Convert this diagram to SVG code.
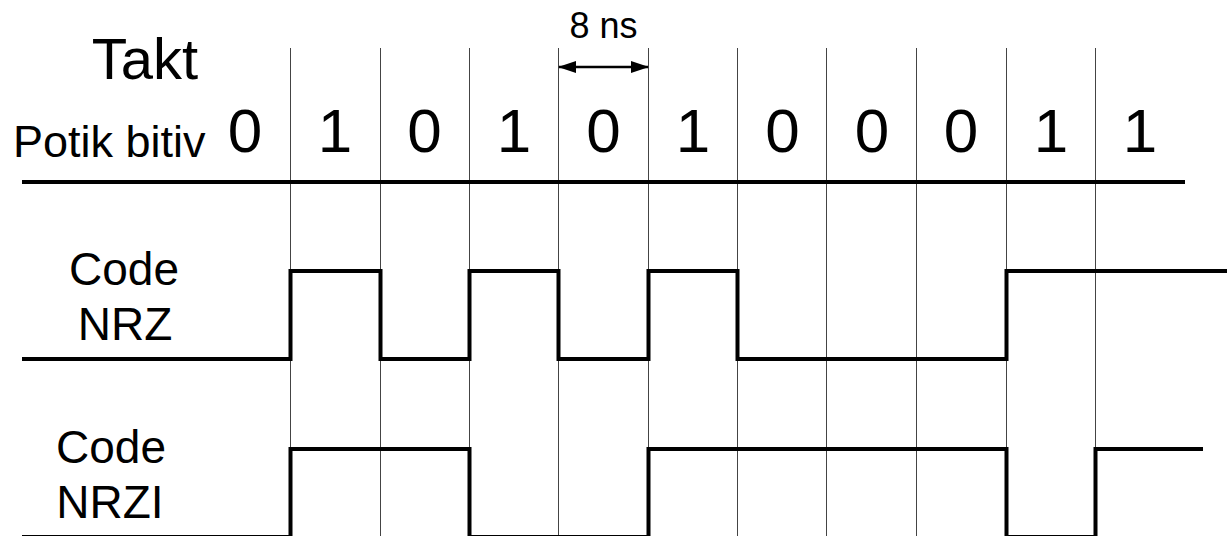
<svg xmlns="http://www.w3.org/2000/svg" width="1227" height="536" viewBox="0 0 1227 536">
<style>
text{font-family:"Liberation Sans",Arial,sans-serif;fill:#000}
.grid{stroke:#444;stroke-width:1;fill:none}
.wave{stroke:#000;stroke-width:4;fill:none;stroke-linejoin:miter;stroke-linecap:butt}
.bit{font-size:62px;text-anchor:middle}
.lbl{font-size:46px;text-anchor:middle}
</style>
<defs>
<marker id="ah" viewBox="0 0 18 12" refX="17" refY="6" markerWidth="18" markerHeight="12" markerUnits="userSpaceOnUse" orient="auto-start-reverse">
<path d="M0,0 L18,6 L0,12 Z" fill="#000"/>
</marker>
</defs>
<g id="grid">
<line class="grid" x1="290.5" y1="48" x2="290.5" y2="536"/>
<line class="grid" x1="380.5" y1="48" x2="380.5" y2="536"/>
<line class="grid" x1="469.5" y1="48" x2="469.5" y2="536"/>
<line class="grid" x1="558.5" y1="48" x2="558.5" y2="536"/>
<line class="grid" x1="648.5" y1="48" x2="648.5" y2="536"/>
<line class="grid" x1="737.5" y1="48" x2="737.5" y2="536"/>
<line class="grid" x1="826.5" y1="48" x2="826.5" y2="536"/>
<line class="grid" x1="916.5" y1="48" x2="916.5" y2="536"/>
<line class="grid" x1="1006.5" y1="48" x2="1006.5" y2="536"/>
<line class="grid" x1="1095.5" y1="48" x2="1095.5" y2="536"/>
</g>
<g id="header">
<text x="145" y="79" font-size="58" text-anchor="middle">Takt</text>
<text x="13" y="157" font-size="45">Potik bitiv</text>
<line x1="22" y1="182" x2="1185" y2="182" stroke="#000" stroke-width="4"/>
</g>
<g id="bits">
<text class="bit" x="245" y="152">0</text>
<text class="bit" x="335" y="152">1</text>
<text class="bit" x="424.5" y="152">0</text>
<text class="bit" x="514" y="152">1</text>
<text class="bit" x="603.5" y="152">0</text>
<text class="bit" x="693" y="152">1</text>
<text class="bit" x="782.5" y="152">0</text>
<text class="bit" x="872" y="152">0</text>
<text class="bit" x="961" y="152">0</text>
<text class="bit" x="1051" y="152">1</text>
<text class="bit" x="1140" y="152">1</text>
</g>
<g id="period">
<text x="603.5" y="38" font-size="36" text-anchor="middle">8 ns</text>
<line x1="559" y1="67" x2="648" y2="67" stroke="#000" stroke-width="2.5" marker-start="url(#ah)" marker-end="url(#ah)"/>
</g>
<g id="nrz-label">
<text class="lbl" x="124" y="285">Code</text>
<text class="lbl" x="125" y="340">NRZ</text>
</g>
<g id="nrzi-label">
<text class="lbl" x="111" y="463">Code</text>
<text class="lbl" x="110" y="518">NRZI</text>
</g>
<g id="connectors">
<path id="nrz" class="wave" d="M22,359 H290.5 V271 H380.5 V359 H469.5 V271 H558.5 V359 H648.5 V271 H737.5 V359 H1006.5 V271 H1227"/>
<path id="nrzi" class="wave" d="M22,537 H290.5 V449 H469.5 V537 H648.5 V449 H1006.5 V537 H1095.5 V449 H1203"/>
</g>
</svg>
